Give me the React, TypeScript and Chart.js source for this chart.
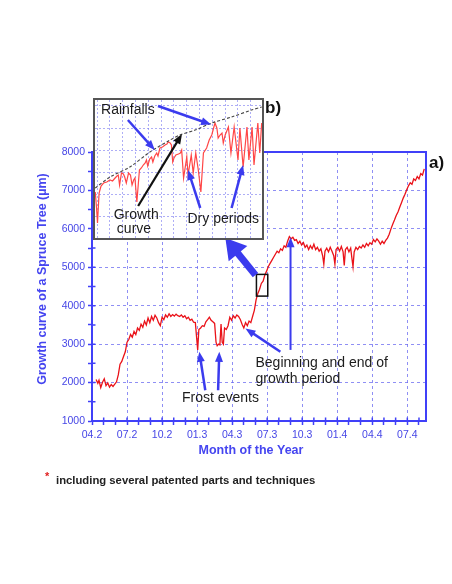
import React, { useEffect, useRef } from "react";
import { Chart, registerables } from "chart.js";

Chart.register(...registerables);

const W = 452;
const H = 584;

// ---------- Panel a): growth curve, months since April of year 2 ("04.2" = 0) ----------
const mainMonths = [
  0.35, 0.5, 0.6, 0.75, 0.9, 1.05, 1.2, 1.35, 1.5, 1.65, 1.8, 1.95, 2.1, 2.25, 2.4, 2.55, 2.7, 2.85,
  3.0, 3.15, 3.3, 3.45, 3.6, 3.75, 3.9, 4.05, 4.2, 4.35, 4.5, 4.65, 4.8, 4.95, 5.1, 5.25, 5.4, 5.55,
  5.7, 5.85, 6.0, 6.15, 6.3, 6.45, 6.6, 6.75, 6.9, 7.05, 7.2, 7.35, 7.5, 7.65, 7.8, 7.95, 8.1, 8.25,
  8.4, 8.55, 8.7, 8.85, 8.95, 9.05, 9.15, 9.3, 9.45, 9.6, 9.75, 9.9, 10.05, 10.2, 10.35, 10.5, 10.62,
  10.72, 10.85, 10.95, 11.05, 11.15, 11.25, 11.35, 11.5, 11.65, 11.8, 11.95, 12.1, 12.25, 12.4, 12.55,
  12.7, 12.85, 13.0, 13.15, 13.3, 13.45, 13.6, 13.75, 13.9, 14.05, 14.2, 14.35, 14.5, 14.65, 14.8,
  14.95, 15.1, 15.25, 15.4, 15.55, 15.7, 15.85, 16.0, 16.15, 16.3, 16.45, 16.6, 16.75, 16.9, 17.05,
  17.2, 17.35, 17.5, 17.65, 17.8, 17.95, 18.1, 18.25, 18.4, 18.55, 18.7, 18.85, 19.0, 19.15, 19.3,
  19.45, 19.6, 19.75, 19.85, 19.95, 20.1, 20.25, 20.4, 20.55, 20.7, 20.8, 20.9, 21.05, 21.2, 21.35,
  21.5, 21.6, 21.7, 21.85, 22.0, 22.15, 22.25, 22.35, 22.45, 22.6, 22.75, 22.9, 23.05, 23.2, 23.35,
  23.5, 23.65, 23.8, 23.95, 24.1, 24.25, 24.4, 24.55, 24.7, 24.85, 25.0, 25.15, 25.3, 25.45, 25.6,
  25.75, 25.9, 26.05, 26.2, 26.35, 26.5, 26.65, 26.8, 26.95, 27.1, 27.25, 27.4, 27.55, 27.7, 27.85,
  28.0, 28.15, 28.3, 28.45,
];
const mainGrowth = [
  2080, 1980, 2060, 1870, 2010, 2100, 1920, 1990, 1880, 1950, 1900, 1960, 2020, 2200, 2480, 2550, 2680, 2800,
  3050, 3120, 3250, 3180, 3330, 3250, 3420, 3360, 3520, 3440, 3600, 3500, 3680, 3560, 3720, 3620, 3750, 3680,
  3560, 3480, 3700, 3640, 3760, 3700, 3790, 3720, 3770, 3730, 3780, 3740, 3720, 3760, 3700, 3740, 3660, 3700,
  3620, 3650, 3570, 3560, 3200, 2850, 3380, 3420, 3480, 3460, 3580, 3640, 3700, 3620, 3580, 3540, 3050,
  2960, 3000, 2980, 3520, 3050, 3000, 3420, 3380, 3480, 3700, 3620, 3740, 3680, 3760, 3720,
  3640, 3520, 3420, 3560, 3480, 3600, 3560, 3720, 3880, 4150, 4320, 4430, 4580, 4640, 4800,
  4900, 5020, 5100, 5180, 5260, 5340, 5420, 5380, 5480, 5440, 5560, 5520, 5680, 5800, 5740,
  5780, 5700, 5720, 5620, 5680, 5580, 5640, 5520, 5580, 5460, 5560, 5480, 5600, 5460, 5520,
  5420, 5480, 5300, 5080, 5420, 5500, 5400, 5520, 5420, 5300, 5080, 5460, 5520, 5420, 5540,
  5400, 5050, 5460, 5520, 5400, 5500, 5250, 5010, 5400, 5520, 5460, 5540, 5500, 5580, 5520,
  5620, 5560, 5640, 5600, 5720, 5660, 5740, 5680, 5600, 5680, 5620, 5700, 5760, 5860, 6000,
  6120, 6230, 6350, 6440, 6560, 6680, 6800, 6900, 7020, 7120, 7200, 7160, 7300, 7260, 7360,
  7300, 7440, 7400, 7560,
];

const xTickMonths = [0, 3, 6, 9, 12, 15, 18, 21, 24, 27];
const xTickLabels = ["04.2", "07.2", "10.2", "01.3", "04.3", "07.3", "10.3", "01.4", "04.4", "07.4"];
const yTickValues = [1000, 2000, 3000, 4000, 5000, 6000, 7000, 8000];

// ---------- Panel b): zoom on a few weeks of growth (days, relative µm) ----------
const insetDays = [
  -2.3, -2.1, -1.95, -1.7, -1.4, -1.0, -0.5, 0.0, 0.4, 0.8, 1.1, 1.3, 1.5, 1.8, 2.1, 2.3, 2.55, 2.9,
  3.2, 3.45, 3.7, 3.9, 4.2, 4.6, 4.9, 5.2, 5.5, 5.7, 5.9, 6.2, 6.5, 6.7, 7.0, 7.3, 7.5, 7.8, 8.2, 8.6,
  8.9, 9.1, 9.4, 9.6, 9.8, 10.0, 10.3, 10.7, 11.0, 11.2, 11.5, 12.0, 12.2, 12.7, 13.0, 13.4, 13.8,
  14.2, 14.6, 15.1, 15.5, 15.9, 16.4, 16.7, 16.9, 17.2, 17.5, 17.7, 18.0, 18.5, 18.9, 19.4, 20.0,
  20.3, 20.8, 21.4, 21.7, 22.2, 22.5, 23.1, 23.4, 23.7,
];
const insetGrowth = [
  46, 30, 15, 45, 52, 55, 56, 58, 57, 60, 62, 63, 53, 65, 64, 61, 55, 65,
  63, 53, 58, 60, 36, 68, 70, 73, 75, 78, 72, 79, 81, 76, 82, 85, 82, 90, 91, 93,
  94, 96, 95, 93, 76, 80, 83, 84, 85, 88, 60, 81, 63, 83, 65, 85, 68,
  46, 85, 90, 98, 103, 115, 110, 100, 103, 105, 95, 103, 111, 85, 111, 78,
  110, 71, 111, 78, 111, 73, 115, 85, 115,
];
const curveDays = [-2.3, 0, 3.1, 6.25, 9.4, 10.9, 13.3, 15.9, 19.0, 22.1, 23.7];
const curveGrowth = [50, 61, 71, 86, 98, 103, 108, 115, 121, 128, 131];

const AXIS = "#4040f8";
const TICK_TEXT = "#4646e6";
const GRID = "rgba(105,105,240,0.75)";
const ARROW = "#3b3bee";
const TEXT = "#1c1c1c";
const SANS = '"Liberation Sans", Arial, Helvetica, sans-serif';
const NARROW = '"Liberation Sans Narrow", "Arial Narrow", "Liberation Sans", Arial, sans-serif';

function drawArrow(
  ctx: CanvasRenderingContext2D,
  x1: number, y1: number, x2: number, y2: number,
  color: string, lw: number, hl: number, hw: number
) {
  const a = Math.atan2(y2 - y1, x2 - x1);
  const bx = x2 - Math.cos(a) * hl;
  const by = y2 - Math.sin(a) * hl;
  ctx.save();
  ctx.strokeStyle = color;
  ctx.fillStyle = color;
  ctx.lineWidth = lw;
  ctx.lineCap = "butt";
  ctx.beginPath();
  ctx.moveTo(x1, y1);
  ctx.lineTo(bx + Math.cos(a), by + Math.sin(a));
  ctx.stroke();
  ctx.beginPath();
  ctx.moveTo(x2, y2);
  ctx.lineTo(bx + (Math.sin(a) * hw) / 2, by - (Math.cos(a) * hw) / 2);
  ctx.lineTo(bx - (Math.sin(a) * hw) / 2, by + (Math.cos(a) * hw) / 2);
  ctx.closePath();
  ctx.fill();
  ctx.restore();
}

const mainDecor = {
  id: "mainDecor",
  afterDraw(chart: any) {
    const ctx: CanvasRenderingContext2D = chart.ctx;
    const { left, right, top, bottom } = chart.chartArea;
    const sx = chart.scales.x;
    const sy = chart.scales.y;
    const px = (m: number) => sx.getPixelForValue(m);
    const py = (v: number) => sy.getPixelForValue(v);

    ctx.save();
    // frame
    ctx.strokeStyle = AXIS;
    ctx.lineWidth = 2;
    ctx.strokeRect(left, top, right - left, bottom - top);
    // inner tick marks
    ctx.lineWidth = 1.5;
    ctx.beginPath();
    sx.ticks.forEach((t: any) => {
      const x = px(t.value);
      ctx.moveTo(x, bottom);
      ctx.lineTo(x, bottom - 3.5);
    });
    sy.ticks.forEach((t: any) => {
      const y = py(t.value);
      ctx.moveTo(left, y);
      ctx.lineTo(left + 3.5, y);
    });
    ctx.stroke();

    // axis titles
    ctx.fillStyle = "#4545f0";
    ctx.font = `bold 12.5px ${SANS}`;
    ctx.textAlign = "center";
    ctx.textBaseline = "middle";
    ctx.fillText("Month of the Year", 251, 451);
    ctx.save();
    ctx.translate(43, 279);
    ctx.rotate(-Math.PI / 2);
    ctx.fillText("Growth curve of a Spruce Tree (µm)", 0, 0);
    ctx.restore();

    // zoom box on the curve
    ctx.strokeStyle = "#111";
    ctx.lineWidth = 1.5;
    ctx.strokeRect(px(14.08), py(4815), px(15.05) - px(14.08), py(4250) - py(4815));

    // big arrow toward the inset
    drawArrow(ctx, px(14.0), py(4797), px(11.42), py(5760), ARROW, 7, 20, 24);

    // frost events
    drawArrow(ctx, px(9.7), py(1800), px(9.19), py(2800), ARROW, 2.5, 10, 8);
    drawArrow(ctx, px(10.8), py(1800), px(10.9), py(2800), ARROW, 2.5, 10, 8);
    // beginning and end of growth period
    drawArrow(ctx, px(16.13), py(2800), px(13.14), py(3410), ARROW, 2.5, 10, 8);
    drawArrow(ctx, px(17.0), py(2850), px(17.0), py(5780), ARROW, 2, 10, 8);

    ctx.fillStyle = TEXT;
    ctx.font = `14px ${SANS}`;
    ctx.textAlign = "center";
    ctx.fillText("Frost events", px(11.0), py(1600));
    ctx.textAlign = "left";
    ctx.fillText("Beginning and end of", px(14.0), py(2505));
    ctx.fillText("growth period", px(14.0), py(2090));

    // panel letters
    ctx.font = `bold 17px ${SANS}`;
    ctx.fillStyle = "#111";
    ctx.fillText("b)", 265, 108);
    ctx.fillText("a)", right + 3, top + 11);

    // footnote
    ctx.fillStyle = "#e02020";
    ctx.font = `bold 11px ${SANS}`;
    ctx.fillText("*", 45, 477);
    ctx.fillStyle = "#222";
    ctx.font = `bold 11.3px ${SANS}`;
    ctx.fillText("including several patented parts and techniques", 56, 481);
    ctx.restore();
  },
};

const insetDecor = {
  id: "insetDecor",
  afterDraw(chart: any) {
    const ctx: CanvasRenderingContext2D = chart.ctx;
    const sx = chart.scales.x;
    const sy = chart.scales.y;
    const px = (d: number) => sx.getPixelForValue(d);
    const py = (v: number) => sy.getPixelForValue(v);
    ctx.save();
    drawArrow(ctx, px(2.8), py(118), px(7.0), py(88), ARROW, 2.5, 10, 8);
    drawArrow(ctx, px(7.5), py(132), px(15.8), py(113.5), ARROW, 2.5, 10, 8);
    drawArrow(ctx, px(4.4), py(32), px(11.25), py(104), "#111", 2.2, 10, 8);
    drawArrow(ctx, px(14.1), py(30), px(12.2), py(68), ARROW, 2.5, 10, 8);
    drawArrow(ctx, px(19.0), py(30), px(20.8), py(73), ARROW, 2.5, 10, 8);

    ctx.fillStyle = TEXT;
    ctx.font = `14px ${SANS}`;
    ctx.textBaseline = "middle";
    ctx.textAlign = "left";
    ctx.fillText("Rainfalls", px(-1.4), py(127.5));
    ctx.textAlign = "center";
    ctx.fillText("Growth", px(4.1), py(23));
    ctx.fillText("curve", px(3.75), py(9));
    ctx.fillText("Dry periods", px(17.7), py(19));
    ctx.restore();
  },
};

export default function App() {
  const mainRef = useRef<HTMLCanvasElement>(null);
  const insetRef = useRef<HTMLCanvasElement>(null);

  useEffect(() => {
    const main = new Chart(mainRef.current as HTMLCanvasElement, {
      type: "line",
      data: {
        datasets: [
          {
            data: mainMonths.map((m, i) => ({ x: m, y: mainGrowth[i] })),
            borderColor: "#ea1219",
            borderWidth: 1.3,
            pointRadius: 0,
            tension: 0,
            fill: false,
          },
        ],
      },
      options: {
        animation: false,
        responsive: false,
        devicePixelRatio: 1,
        layout: { padding: { left: 62, right: 26, top: 152, bottom: 133 } },
        plugins: { legend: { display: false }, tooltip: { enabled: false } },
        scales: {
          x: {
            type: "linear",
            min: 0,
            max: 28.6,
            afterFit: (s: any) => {
              s.height = 30;
            },
            ticks: {
              stepSize: 1,
              includeBounds: false,
              autoSkip: false,
              maxRotation: 0,
              padding: 4,
              color: TICK_TEXT,
              font: { family: NARROW, size: 10.5 },
              callback: (v: any) => {
                const i = xTickMonths.indexOf(Number(v));
                return i >= 0 ? xTickLabels[i] : "";
              },
            },
            grid: {
              color: (c: any) => (xTickMonths.includes(c.tick?.value) ? GRID : "rgba(0,0,0,0)"),
              lineWidth: 1,
              tickColor: AXIS,
              tickLength: 4,
              tickWidth: 1.5,
            },
            border: { color: AXIS, width: 2, dash: [3, 3] },
          },
          y: {
            type: "linear",
            min: 1000,
            max: 8000,
            afterFit: (s: any) => {
              s.width = 30;
            },
            ticks: {
              stepSize: 500,
              autoSkip: false,
              padding: 3,
              color: TICK_TEXT,
              font: { family: NARROW, size: 10.5 },
              callback: (v: any) => (yTickValues.includes(Number(v)) ? String(v) : ""),
            },
            grid: {
              color: (c: any) => (yTickValues.includes(c.tick?.value) ? GRID : "rgba(0,0,0,0)"),
              lineWidth: 1,
              tickColor: AXIS,
              tickLength: 4,
              tickWidth: 1.5,
            },
            border: { color: AXIS, width: 2, dash: [3, 3] },
          },
        },
      },
      plugins: [mainDecor],
    } as any);

    const inset = new Chart(insetRef.current as HTMLCanvasElement, {
      type: "line",
      data: {
        datasets: [
          {
            data: curveDays.map((d, i) => ({ x: d, y: curveGrowth[i] })),
            borderColor: "#444",
            borderWidth: 1.1,
            borderDash: [3, 2],
            pointRadius: 0,
            tension: 0.3,
            fill: false,
          },
          {
            data: insetDays.map((d, i) => ({ x: d, y: insetGrowth[i] })),
            borderColor: "#ff4646",
            borderWidth: 1.2,
            pointRadius: 0,
            tension: 0,
            fill: false,
          },
        ],
      },
      options: {
        animation: false,
        responsive: false,
        devicePixelRatio: 1,
        layout: { padding: 0 },
        plugins: { legend: { display: false }, tooltip: { enabled: false } },
        scales: {
          x: {
            type: "linear",
            min: -2.34,
            max: 23.75,
            afterFit: (s: any) => {
              s.height = 0;
            },
            ticks: { display: false, stepSize: 2, includeBounds: false },
            grid: { color: "rgba(120,120,240,0.6)", drawTicks: false, lineWidth: 1 },
            border: { display: false, dash: [2, 2] },
          },
          y: {
            type: "linear",
            min: 0,
            max: 138,
            afterFit: (s: any) => {
              s.width = 0;
            },
            ticks: { display: false, stepSize: 22, includeBounds: false },
            grid: { color: "rgba(120,120,240,0.6)", drawTicks: false, lineWidth: 1 },
            border: { display: false, dash: [2, 2] },
          },
        },
      },
      plugins: [insetDecor],
    } as any);

    return () => {
      main.destroy();
      inset.destroy();
    };
  }, []);

  return (
    <div style={{ position: "absolute", left: 0, top: 0, width: W, height: H, background: "#fff", overflow: "hidden" }}>
      <canvas
        ref={mainRef}
        width={W}
        height={H}
        style={{ position: "absolute", left: 0, top: 0, width: W, height: H }}
      />
      <div
        style={{
          position: "absolute",
          left: 93,
          top: 98,
          width: 171,
          height: 142,
          boxSizing: "border-box",
          border: "2px solid #555",
          background: "#fff",
        }}
      >
        <canvas ref={insetRef} width={167} height={138} style={{ display: "block", width: 167, height: 138 }} />
      </div>
    </div>
  );
}
